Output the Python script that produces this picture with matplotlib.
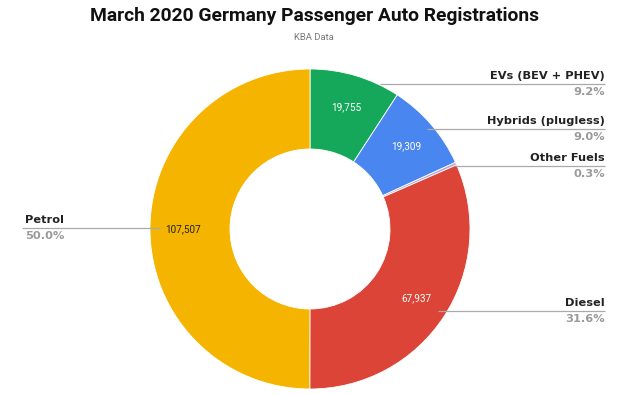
import matplotlib
matplotlib.use("Agg")
import matplotlib.pyplot as plt
import numpy as np

# ── Data ──────────────────────────────────────────────────────────────────────
categories = ["EVs (BEV + PHEV)", "Hybrids (plugless)", "Other Fuels", "Diesel", "Petrol"]
registrations = [19755, 19309, 600, 67937, 107507]
pct_labels = ["9.2%", "9.0%", "0.3%", "31.6%", "50.0%"]
value_labels = ["19,755", "19,309", "", "67,937", "107,507"]
colors = ["#16a85a", "#4a86f0", "#b9a8d8", "#dc4437", "#f4b400"]
value_colors = ["white", "white", "white", "white", "#222222"]

# ── Figure (pixel coordinates, y measured from bottom) ───────────────────────
W, H = 640, 395
fig = plt.figure(figsize=(W / 100, H / 100), dpi=100)
ax = fig.add_axes([0, 0, 1, 1])

cx, cy, R = 310, H - 229, 160
wedges, _ = ax.pie(registrations, colors=colors, startangle=90, counterclock=False,
                   center=(cx, cy), radius=R, frame=True,
                   wedgeprops=dict(width=80, edgecolor="white", linewidth=0.6))
ax.set_xlim(0, W)
ax.set_ylim(0, H)
ax.set_aspect("equal")
ax.axis("off")

# value labels in the middle of the ring
rmid = 127
for w, txt, tc in zip(wedges, value_labels, value_colors):
    if not txt:
        continue
    ang = np.deg2rad((w.theta1 + w.theta2) / 2)
    ax.text(cx + rmid * np.cos(ang), cy + rmid * np.sin(ang), txt,
            ha="center", va="center", fontsize=7.2, color=tc, family="Roboto")

# leader lines + category labels
# (line y in px from top, line start x, line end x, text anchor x, align)
leaders = [
    (84, 380, 605, 605, "right"),
    (129, 427, 605, 605, "right"),
    (166, 455, 605, 605, "right"),
    (311, 438, 605, 605, "right"),
    (228, 22, 160, 25, "left"),
]
for (ly, x0, x1, tx, ha), name, pct in zip(leaders, categories, pct_labels):
    y = H - ly
    ax.plot([x0, x1], [y, y], color="#aaaaaa", lw=0.9, solid_capstyle="butt")
    ax.text(tx, y + 3, name, ha=ha, va="bottom", fontsize=8.2, fontweight="bold",
            color="#222222", family="DejaVu Sans")
    ax.text(tx, y - 3, pct, ha=ha, va="top", fontsize=8.2, fontweight="bold",
            color="#9a9a9a", family="DejaVu Sans")

ax.text(W / 2 - 6, H - 16, "March 2020 Germany Passenger Auto Registrations", ha="center",
        va="center", fontsize=13.9, fontweight="bold", color="#111111", family="Roboto")
ax.text(W / 2 - 6, H - 37, "KBA Data", ha="center", va="center", fontsize=6.8,
        color="#777777", family="Roboto")

fig.savefig("out.png", dpi=100, facecolor="white")
